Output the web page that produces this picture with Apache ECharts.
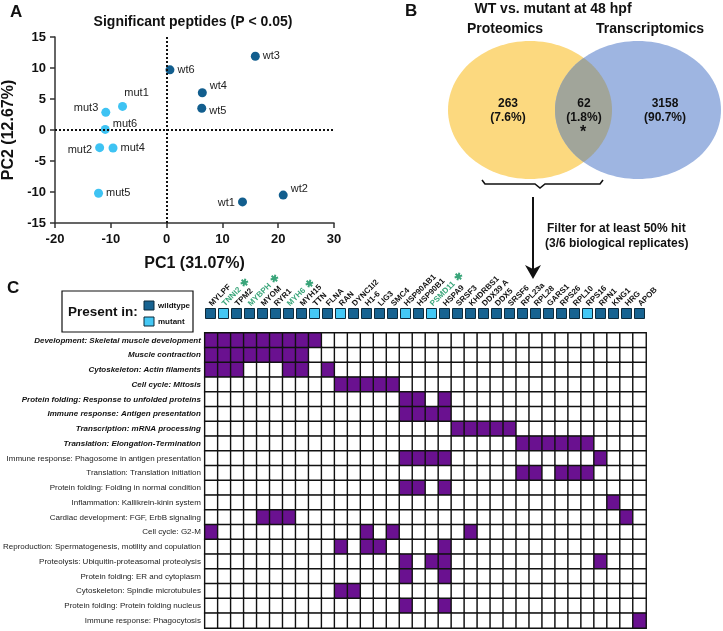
<!DOCTYPE html>
<html>
<head>
<meta charset="utf-8">
<script src="https://cdn.jsdelivr.net/npm/echarts@6/dist/echarts.min.js"></script>
<style>
  html, body { margin: 0; padding: 0; background: #fff; }
  #chart { width: 723px; height: 631px; }
</style>
</head>
<body>
<div id="chart"></div>
<script>
// A: PCA scores
const wtNames = ['wt1', 'wt2', 'wt3', 'wt4', 'wt5', 'wt6'];
const wtPC1 = [13.6, 20.9, 15.9, 6.4, 6.3, 0.6];
const wtPC2 = [-11.6, -10.5, 11.9, 6.0, 3.5, 9.7];
const mutNames = ['mut1', 'mut2', 'mut3', 'mut4', 'mut5', 'mut6'];
const mutPC1 = [-7.9, -12.0, -10.9, -9.6, -12.2, -11.0];
const mutPC2 = [3.8, -2.85, 2.85, -2.9, -10.2, 0.1];

// B: venn counts
const vennSets = ['Proteomics', 'Transcriptomics'];
const vennCounts = [263, 62, 3158];
const vennPercents = ['7.6%', '1.8%', '90.7%'];

// C: proteins x pathways
const genes = ['MYLPF', 'TNNI2', 'TPM2', 'MYBPH', 'MYOM', 'RYR1', 'MYH6', 'MYH15', 'TTN', 'FLNA',
  'RAN', 'DYNC1I2', 'H1-6', 'LIG3', 'SMC4', 'HSP90AB1', 'HSP90B1', 'PSMD11', 'HSPA9', 'SRSF3',
  'KHDRBS1', 'DDX39 A', 'DDX5', 'SRSF6', 'RPL23a', 'RPL28', 'GARS1', 'RPS26', 'RPL10', 'RPS16',
  'RPN1', 'KNG1', 'HRG', 'APOB'];
const mutantGenes = ['TNNI2', 'TTN', 'RAN', 'HSP90AB1', 'PSMD11', 'RPS16'];
const starredGenes = ['TNNI2', 'MYBPH', 'MYH6', 'PSMD11'];
const pathways = [
  'Development: Skeletal muscle development',
  'Muscle contraction',
  'Cytoskeleton: Actin filaments',
  'Cell cycle: Mitosis',
  'Protein folding: Response to unfolded proteins',
  'Immune response: Antigen presentation',
  'Transcription: mRNA processing',
  'Translation: Elongation-Termination',
  'Immune response: Phagosome in antigen presentation',
  'Translation: Translation initiation',
  'Protein folding: Folding in normal condition',
  'Inflammation: Kallikrein-kinin system',
  'Cardiac development: FGF, ErbB signaling',
  'Cell cycle: G2-M',
  'Reproduction: Spermatogenesis, motility and copulation',
  'Proteolysis: Ubiquitin-proteasomal proteolysis',
  'Protein folding: ER and cytoplasm',
  'Cytoskeleton: Spindle microtubules',
  'Protein folding: Protein folding nucleus',
  'Immune response: Phagocytosis'
];
const majorPathways = 8; // first rows are in bold italic
// indices of genes hit in each pathway (same order as pathways)
const pathwayHits = [
  [0, 1, 2, 3, 4, 5, 6, 7, 8],
  [0, 1, 2, 3, 4, 5, 6, 7],
  [0, 1, 2, 6, 7, 9],
  [10, 11, 12, 13, 14],
  [15, 16, 18],
  [15, 16, 17, 18],
  [19, 20, 21, 22, 23],
  [24, 25, 26, 27, 28, 29],
  [15, 16, 17, 18, 30],
  [24, 25, 27, 28, 29],
  [15, 16, 18],
  [31],
  [4, 5, 6, 32],
  [0, 12, 14, 20],
  [10, 12, 13, 18],
  [15, 17, 18, 30],
  [15, 18],
  [10, 11],
  [15, 18],
  [33]
];

const FONT = '"Liberation Sans", Arial, sans-serif';
const WT = '#125e8e';
const MUT = '#3ec3f3';
const PURPLE = '#6a1190';
const GREEN = '#3aa57a';

document.addEventListener('DOMContentLoaded', function () {
  const chart = echarts.init(document.getElementById('chart'));

  // label placement around each point (style only)
  const wtLabel = {
    wt1: { position: 'left', offset: [0, 1] },
    wt2: { position: 'right', offset: [0, -6] },
    wt3: { position: 'right', offset: [0, 0] },
    wt4: { position: 'right', offset: [0, -7] },
    wt5: { position: 'right', offset: [0, 3] },
    wt6: { position: 'right', offset: [0, 0] }
  };
  const mutLabel = {
    mut1: { position: 'top', offset: [14, 0] },
    mut2: { position: 'left', offset: [0, 2] },
    mut3: { position: 'left', offset: [0, -4] },
    mut4: { position: 'right', offset: [0, 0] },
    mut5: { position: 'right', offset: [0, 0] },
    mut6: { position: 'right', offset: [0, -5] }
  };
  function points(names, xs, ys, place) {
    return names.map(function (n, i) {
      return { name: n, value: [xs[i], ys[i]], label: place[n] };
    });
  }

  // heatmap cells
  const cells = [];
  pathways.forEach(function (p, r) {
    genes.forEach(function (g, c) {
      cells.push([c, r, pathwayHits[r].indexOf(c) >= 0 ? 1 : 0]);
    });
  });
  const boxes = genes.map(function (g) {
    return {
      name: g, value: [g, 0],
      itemStyle: { color: mutantGenes.indexOf(g) >= 0 ? '#44c8f5' : '#176391' }
    };
  });

  // venn shapes
  function ellipse(cx, cy, rx, ry) {
    const pts = [];
    for (let i = 0; i < 120; i++) {
      const t = i / 120 * Math.PI * 2;
      pts.push([cx + rx * Math.cos(t), cy + ry * Math.sin(t)]);
    }
    return pts;
  }
  const A = { cx: 530, cy: 110, rx: 82, ry: 69 };
  const B = { cx: 638, cy: 110, rx: 83, ry: 69 };
  function inside(e, x, y) {
    return Math.pow((x - e.cx) / e.rx, 2) + Math.pow((y - e.cy) / e.ry, 2) <= 1;
  }
  const lens = [];
  for (let i = 0; i <= 200; i++) {
    const t = -Math.PI / 2 + i / 200 * Math.PI;
    const x = A.cx + A.rx * Math.cos(t), y = A.cy + A.ry * Math.sin(t);
    if (inside(B, x, y)) lens.push([x, y]);
  }
  for (let i = 0; i <= 200; i++) {
    const t = Math.PI / 2 + i / 200 * Math.PI;
    const x = B.cx + B.rx * Math.cos(t), y = B.cy + B.ry * Math.sin(t);
    if (inside(A, x, y)) lens.push([x, y]);
  }

  function txt(text, x, y, font, align, color) {
    return {
      type: 'text', x: x, y: y, silent: true,
      style: {
        text: text, font: font + ' ' + FONT, fill: color || '#111',
        textAlign: align || 'center', textVerticalAlign: 'middle'
      }
    };
  }

  const graphics = [
    txt('A', 10, 12, 'bold 17px', 'left'),
    txt('Significant peptides (P < 0.05)', 193, 22, 'bold 14px'),
    txt('B', 405, 11, 'bold 17px', 'left'),
    txt('WT vs. mutant at 48 hpf', 553, 9, 'bold 14px'),
    txt(vennSets[0], 505, 29, 'bold 14px'),
    txt(vennSets[1], 650, 29, 'bold 14px'),
    { type: 'polygon', silent: true, shape: { points: ellipse(A.cx, A.cy, A.rx, A.ry) }, style: { fill: '#fcd97f' } },
    { type: 'polygon', silent: true, shape: { points: ellipse(B.cx, B.cy, B.rx, B.ry) }, style: { fill: '#9eb5e1' } },
    { type: 'polygon', silent: true, shape: { points: lens }, style: { fill: '#a1a59a' } },
    txt(String(vennCounts[0]), 508, 104, 'bold 12px'),
    txt('(' + vennPercents[0] + ')', 508, 118, 'bold 12px'),
    txt(String(vennCounts[1]), 584, 104, 'bold 12px'),
    txt('(' + vennPercents[1] + ')', 584, 118, 'bold 12px'),
    txt('*', 583, 133, 'bold 16px'),
    txt(String(vennCounts[2]), 665, 104, 'bold 12px'),
    txt('(' + vennPercents[2] + ')', 665, 118, 'bold 12px'),
    { type: 'polyline', silent: true,
      shape: { points: [[482, 180], [485, 184], [535, 184], [540, 188], [545, 184], [600, 184], [603, 180]] },
      style: { stroke: '#111', lineWidth: 1.6, fill: null } },
    { type: 'line', silent: true, shape: { x1: 533, y1: 197, x2: 533, y2: 272 },
      style: { stroke: '#111', lineWidth: 2 } },
    { type: 'polygon', silent: true, shape: { points: [[525, 265], [533, 269], [541, 265], [533, 279]] },
      style: { fill: '#111' } },
    txt('Filter for at least 50% hit', 547, 229, 'bold 12px', 'left'),
    txt('(3/6 biological replicates)', 545, 244, 'bold 12px', 'left'),
    txt('C', 7, 288, 'bold 17px', 'left'),
    { type: 'rect', silent: true, shape: { x: 62, y: 291, width: 131, height: 41 },
      style: { fill: '#fff', stroke: '#111', lineWidth: 1.2 } },
    txt('Present in:', 68, 312, 'bold 13.5px', 'left'),
    { type: 'rect', silent: true, shape: { x: 144, y: 301, width: 10, height: 9 },
      style: { fill: '#176391', stroke: '#0d2a3a', lineWidth: 1 } },
    { type: 'rect', silent: true, shape: { x: 144, y: 317, width: 10, height: 9 },
      style: { fill: '#44c8f5', stroke: '#0d2a3a', lineWidth: 1 } },
    txt('wildtype', 158, 306, 'bold 8px', 'left'),
    txt('mutant', 158, 322, 'bold 8px', 'left')
  ];

  const option = {
    animation: false,
    textStyle: { fontFamily: FONT },
    graphic: { elements: graphics },
    grid: [
      { left: 55, top: 37, width: 279, height: 186 },
      { left: 204, top: 308, width: 442, height: 11 },
      { left: 204, top: 333, width: 442, height: 295 }
    ],
    xAxis: [
      {
        gridIndex: 0, type: 'value', min: -20, max: 30, interval: 10,
        name: 'PC1 (31.07%)', nameLocation: 'middle', nameGap: 33,
        nameTextStyle: { fontWeight: 'bold', fontSize: 16, color: '#111' },
        axisLine: { onZero: false, lineStyle: { color: '#333', width: 1.5 } },
        axisTick: { length: 5, lineStyle: { color: '#333', width: 1.5 } },
        axisLabel: { fontWeight: 'bold', fontSize: 13, color: '#111', margin: 10 },
        splitLine: { show: false }
      },
      {
        gridIndex: 1, type: 'category', data: genes, position: 'top',
        axisLine: { show: false }, axisTick: { show: false },
        axisLabel: {
          interval: 0, rotate: 45, margin: 3,
          formatter: function (v) {
            return starredGenes.indexOf(v) >= 0 ? '{g|' + v + '} {s|✱}' : '{k|' + v + '}';
          },
          rich: {
            k: { fontWeight: 'bold', fontSize: 8, color: '#111' },
            g: { fontWeight: 'bold', fontSize: 8, color: GREEN },
            s: { fontWeight: 'bold', fontSize: 10, color: GREEN }
          }
        }
      },
      {
        gridIndex: 2, type: 'category', data: genes, position: 'top',
        axisLine: { show: false },
        axisTick: { alignWithLabel: true, length: 15, lineStyle: { color: '#111', width: 1 } },
        axisLabel: { show: false },
        splitLine: { show: false }
      }
    ],
    yAxis: [
      {
        gridIndex: 0, type: 'value', min: -15, max: 15, interval: 5,
        name: 'PC2 (12.67%)', nameLocation: 'middle', nameGap: 38,
        nameTextStyle: { fontWeight: 'bold', fontSize: 16, color: '#111' },
        axisLine: { show: true, onZero: false, lineStyle: { color: '#333', width: 1.5 } },
        axisTick: { show: true, length: 5, lineStyle: { color: '#333', width: 1.5 } },
        axisLabel: { fontWeight: 'bold', fontSize: 13, color: '#111', margin: 9 },
        splitLine: { show: false }
      },
      { gridIndex: 1, type: 'value', min: -1, max: 1, show: false },
      {
        gridIndex: 2, type: 'category', data: pathways, inverse: true,
        axisLine: { show: false },
        axisTick: { alignWithLabel: true, length: 6, lineStyle: { color: '#111', width: 1.5 } },
        axisLabel: {
          interval: 0, margin: 4,
          formatter: function (v, i) {
            return i < majorPathways ? '{b|' + v + '}' : '{n|' + v + '}';
          },
          rich: {
            b: { fontWeight: 'bold', fontStyle: 'italic', fontSize: 8, color: '#111' },
            n: { fontSize: 8, color: '#222' }
          }
        },
        splitLine: { show: false }
      }
    ],
    visualMap: {
      show: false, type: 'piecewise', seriesIndex: 3, dimension: 2,
      pieces: [{ value: 1, color: PURPLE }, { value: 0, color: '#ffffff' }]
    },
    series: [
      {
        name: 'wildtype', type: 'scatter', xAxisIndex: 0, yAxisIndex: 0,
        symbolSize: 9, itemStyle: { color: WT, opacity: 1 },
        label: { show: true, formatter: '{b}', fontSize: 11, color: '#222', distance: 3 },
        data: points(wtNames, wtPC1, wtPC2, wtLabel),
        markLine: {
          silent: true, symbol: 'none', label: { show: false },
          lineStyle: { type: 'dotted', color: '#111', width: 2 },
          data: [{ xAxis: 0 }, { yAxis: 0 }]
        },
        z: 3
      },
      {
        name: 'mutant', type: 'scatter', xAxisIndex: 0, yAxisIndex: 0,
        symbolSize: 9, itemStyle: { color: MUT, opacity: 1 },
        label: { show: true, formatter: '{b}', fontSize: 11, color: '#222', distance: 3 },
        data: points(mutNames, mutPC1, mutPC2, mutLabel),
        z: 3
      },
      {
        name: 'present', type: 'scatter', xAxisIndex: 1, yAxisIndex: 1,
        symbol: 'rect', symbolSize: [10, 10],
        itemStyle: { borderColor: '#0d2a3a', borderWidth: 1, opacity: 1 },
        data: boxes, silent: true
      },
      {
        name: 'hits', type: 'heatmap', xAxisIndex: 2, yAxisIndex: 2,
        data: cells, silent: true,
        itemStyle: { borderColor: '#111', borderWidth: 1.4 },
        emphasis: { disabled: true }
      }
    ]
  };

  chart.setOption(option);
});
</script>
</body>
</html>
